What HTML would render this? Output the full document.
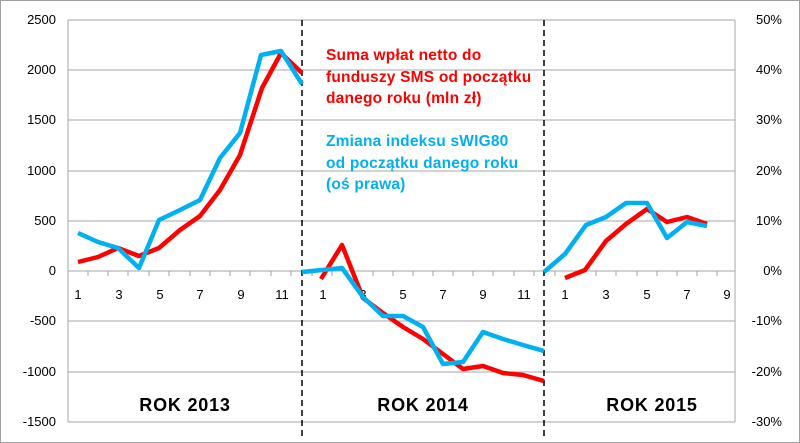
<!DOCTYPE html>
<html><head><meta charset="utf-8"><style>
body{margin:0;background:#fff}
svg{display:block;font-family:"Liberation Sans",sans-serif}
</style></head><body>
<svg width="800" height="443" viewBox="0 0 800 443">
<rect x="0.5" y="0.5" width="799" height="442" fill="#fff" stroke="#a0a0a0"/>
<g stroke="#a6a6a6" stroke-width="1">
<line x1="68" y1="20" x2="735" y2="20"/>
<line x1="68" y1="70" x2="735" y2="70"/>
<line x1="68" y1="120" x2="735" y2="120"/>
<line x1="68" y1="171" x2="735" y2="171"/>
<line x1="68" y1="221" x2="735" y2="221"/>
<line x1="68" y1="271" x2="735" y2="271"/>
<line x1="68" y1="321" x2="735" y2="321"/>
<line x1="68" y1="372" x2="735" y2="372"/>
<line x1="68" y1="422" x2="735" y2="422"/>
<line x1="68" y1="20" x2="68" y2="422"/>
<line x1="735" y1="20" x2="735" y2="422"/>
</g>
<g stroke="#a6a6a6">
<path d="M88 271v5M108 271v5M128 271v5M149 271v5M169 271v5M190 271v5M210 271v5M230 271v5M250 271v5M271 271v5M291 271v5M312 271v5M332 271v5M352 271v5M373 271v5M393 271v5M413 271v5M433 271v5M453 271v5M473 271v5M493 271v5M514 271v5M534 271v5M555 271v5M576 271v5M596 271v5M616 271v5M637 271v5M657 271v5M677 271v5M697 271v5M717 271v5"/>
</g>
<g font-size="13" fill="#000" text-anchor="end">
<text x="56" y="24">2500</text><text x="56" y="74">2000</text><text x="56" y="124">1500</text>
<text x="56" y="175">1000</text><text x="56" y="225">500</text><text x="56" y="275">0</text>
<text x="56" y="325">-500</text><text x="56" y="376">-1000</text><text x="56" y="426">-1500</text>
</g>
<g font-size="13" fill="#000" text-anchor="end">
<text x="782" y="24">50%</text><text x="782" y="74">40%</text><text x="782" y="124">30%</text>
<text x="782" y="175">20%</text><text x="782" y="225">10%</text><text x="782" y="275">0%</text>
<text x="782" y="325">-10%</text><text x="782" y="376">-20%</text><text x="782" y="426">-30%</text>
</g>
<g font-size="13" fill="#000" text-anchor="middle">
<text x="78" y="299">1</text><text x="119" y="299">3</text><text x="160" y="299">5</text><text x="200" y="299">7</text><text x="241" y="299">9</text><text x="282" y="299">11</text>
<text x="323" y="299">1</text><text x="363" y="299">3</text><text x="403" y="299">5</text><text x="443" y="299">7</text><text x="483" y="299">9</text><text x="524" y="299">11</text>
<text x="565" y="299">1</text><text x="606" y="299">3</text><text x="647" y="299">5</text><text x="687" y="299">7</text><text x="727" y="299">9</text>
</g>
<g stroke="#000" stroke-width="1.5" stroke-dasharray="6,4">
<line x1="302" y1="20" x2="302" y2="440"/>
<line x1="544" y1="20" x2="544" y2="440"/>
</g>
<g fill="none" stroke-width="4.5" stroke-linejoin="round">
<polyline stroke="#ff0000" points="78,262 98,257 118,248 139,256 159,248 180,230 200,216 220,190 240,155 262,88 281,53 302,73"/>
<polyline stroke="#00b0f0" points="78,233 98,242 118,248 139,268 159,220 180,210 200,200 220,158 240,133 261,55 281,51 302,84"/>
<polyline stroke="#ff0000" points="321,279 342,245 363,298 383,313 403,327 423,339 443,354 463,369 483,366 503,373 523,375 544,381"/>
<polyline stroke="#00b0f0" points="302,272 342,268 363,297 383,316 403,316 423,327 443,364 463,362 483,332 503,339 523,345 544,351"/>
<polyline stroke="#ff0000" points="565,278 585,270 606,241 626,224 647,209 667,222 687,217 707,224"/>
<polyline stroke="#00b0f0" points="544,272 565,254 586,225 606,217 626,203 647,203 667,238 687,222 707,226"/>
</g>
<g font-size="15.5" font-weight="bold" letter-spacing="0.2">
<text x="326" y="60" fill="#ff0000">Suma wpłat netto do</text>
<text x="326" y="82" fill="#ff0000">funduszy SMS od początku</text>
<text x="326" y="103" fill="#ff0000">danego roku (mln zł)</text>
<text x="326" y="146" fill="#00b0f0">Zmiana indeksu sWIG80</text>
<text x="326" y="168" fill="#00b0f0">od początku danego roku</text>
<text x="326" y="189" fill="#00b0f0">(oś prawa)</text>
</g>
<g font-size="18" font-weight="bold" text-anchor="middle" fill="#000" letter-spacing="0.8">
<text x="185" y="411">ROK 2013</text>
<text x="423" y="411">ROK 2014</text>
<text x="652" y="411">ROK 2015</text>
</g>
</svg>
</body></html>
